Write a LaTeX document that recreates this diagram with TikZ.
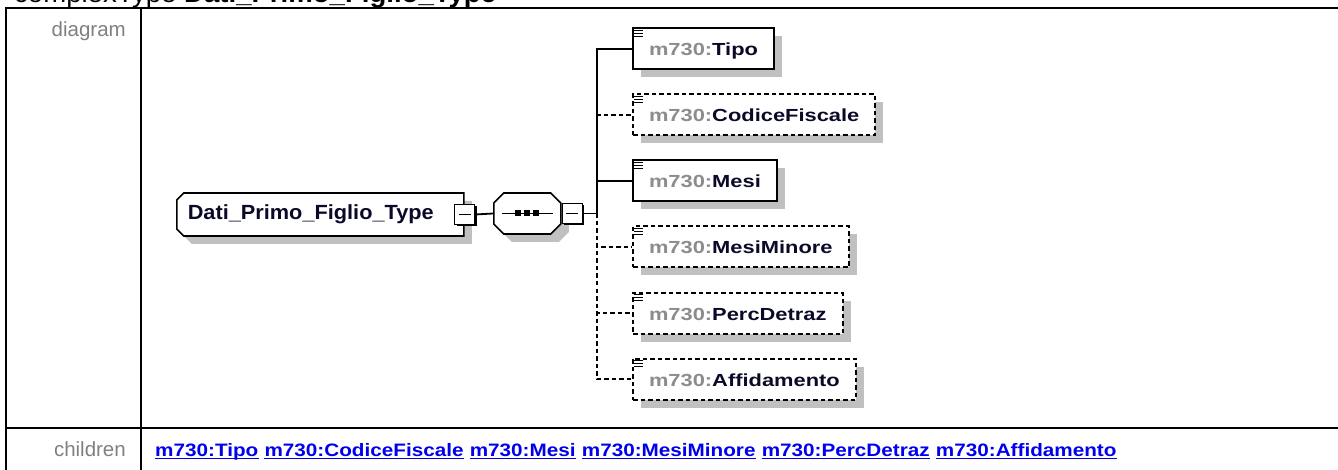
\documentclass[tikz,border=0pt]{standalone}
\usepackage{fontspec}
\setmainfont{Liberation Sans}
\newfontfamily\rootfont[FakeStretch=1.06]{Liberation Sans}
\newfontfamily\elemfont[FakeStretch=1.25]{Liberation Sans}
\newfontfamily\linkfont[FakeStretch=1.15]{Liberation Sans}
\usetikzlibrary{positioning,shapes.misc,shadows}
\definecolor{lblgray}{RGB}{128,128,128}
\definecolor{nsgray}{RGB}{140,140,140}
\definecolor{namecol}{RGB}{10,10,40}
\definecolor{shadowgray}{RGB}{192,192,192}
\definecolor{linkblue}{RGB}{0,0,238}
\tikzset{
  boxshadow/.style={drop shadow={shadow xshift=8pt,shadow yshift=-8pt,fill=shadowgray,opacity=1}},
  conn/.style={line width=1.8pt},
  optconn/.style={conn,dash pattern=on 4.5pt off 3pt},
  iconline/.style={line width=1.5pt}
}
\newcommand{\nsp}{{\color{nsgray}m730:}}
\begin{document}
\begin{tikzpicture}[x=1pt,y=-1pt,
  tableline/.style={line width=2.5pt},
  lbl/.style={text=lblgray,font=\fontsize{20.5}{24}\selectfont,inner sep=0pt,anchor=base east},
  elem/.style={draw,line width=2pt,fill=white,boxshadow,anchor=west,minimum height=41pt,
    inner xsep=16pt,inner ysep=0pt,text height=14pt,text depth=0pt,text=namecol,
    font=\elemfont\fontsize{17.5}{20}\selectfont\bfseries},
  optelem/.style={elem,dash pattern=on 4.5pt off 3pt},
  rootbox/.style={chamfered rectangle,chamfered rectangle corners={north west,south west},
    chamfered rectangle xsep=3.5pt,chamfered rectangle ysep=3.5pt,draw,line width=1.6pt,
    fill=white,boxshadow,anchor=west,minimum height=43pt,inner xsep=7.5pt,inner ysep=0pt,
    text width=265pt,align=left,text height=11pt,text depth=0pt,text=namecol,
    font=\rootfont\fontsize{20.5}{24}\selectfont\bfseries},
  seqbox/.style={chamfered rectangle,chamfered rectangle xsep=5pt,chamfered rectangle ysep=5pt,
    draw,line width=1.6pt,fill=white,boxshadow,anchor=west,inner sep=0pt,
    text width=57pt,text height=31pt,text depth=0pt},
  minusbox/.style={draw,line width=1.5pt,fill=white,minimum size=20pt,inner sep=0pt,
    drop shadow={shadow xshift=2pt,shadow yshift=-2pt,fill=black,opacity=1},
    path picture={\draw[line width=1.4pt] ([xshift=4pt]path picture bounding box.west)
      -- ([xshift=-4pt]path picture bounding box.east);}},
  childlink/.style={text=linkblue,inner sep=0pt,anchor=base west,
    font=\linkfont\fontsize{18}{22}\selectfont\bfseries,
    append after command={([yshift=-2.5pt]\tikzlastnode.base west)
      edge[draw=linkblue,line width=1.7pt] ([yshift=-2.5pt]\tikzlastnode.base east)}}
]
\useasboundingbox (0,0) rectangle (1338,470);
% table frame
\draw[tableline] (6,470) -- (6,8) -- (1340,8);
\draw[tableline] (141,8) -- (141,470);
\draw[tableline] (6,428) -- (1340,428);
\node[anchor=base west,inner sep=0pt,font=\rootfont\fontsize{26}{30}\selectfont] (title) at (14,3)
  {complexType \textbf{Dati\_Primo\_Figlio\_Type}};
\node[lbl] (lbldiag) at (126,37) {diagram};
\node[lbl] (lblchild) at (126,456) {children};

% type and sequence
\node[rootbox] (root) at (176,214.5) {Dati\_Primo\_Figlio\_Type};
\node[minusbox] (rootminus) at (root.east) {};
\node[seqbox] (seq) at (493,213.5) {};
\node[minusbox,anchor=west] (seqminus) at (seq.east) {};
\draw[conn] ([xshift=9pt]seq.west) -- ([xshift=-9pt]seq.east);
\foreach \dx in {-9,0,9}
  \fill ([xshift=\dx pt]seq.center) ++(-3,-3) rectangle ++(6,6);
\draw[conn] (rootminus.east) -- (seq.west);
\coordinate (bus) at (597,213.5);
\draw[conn] (seqminus.east) -- (bus);

% children
\node[elem] (tipo) at (632,49) {\nsp Tipo};
\node[optelem] (cf) at (632,115) {\nsp CodiceFiscale};
\node[elem] (mesi) at (632,181) {\nsp Mesi};
\node[optelem] (mm) at (632,247) {\nsp MesiMinore};
\node[optelem] (pd) at (632,313) {\nsp PercDetraz};
\node[optelem] (aff) at (632,379) {\nsp Affidamento};
\foreach \n in {tipo,cf,mesi,mm,pd,aff}
  \foreach \dy in {3,6,9}
    \draw[iconline] ([shift={(2,\dy)}]\n.north west) -- ++(9,0);
\foreach \n in {cf,mm,pd,aff}
  \draw[optconn] (bus) |- (\n.west);
\foreach \n in {tipo,mesi}
  \draw[conn] (bus) |- (\n.west);

% children links
\node[childlink] (lk1) at (155,456) {m730:Tipo};
\node[childlink,base right=5.8pt of lk1] (lk2) {m730:CodiceFiscale};
\node[childlink,base right=5.8pt of lk2] (lk3) {m730:Mesi};
\node[childlink,base right=5.8pt of lk3] (lk4) {m730:MesiMinore};
\node[childlink,base right=5.8pt of lk4] (lk5) {m730:PercDetraz};
\node[childlink,base right=5.8pt of lk5] (lk6) {m730:Affidamento};
\end{tikzpicture}
\end{document}
